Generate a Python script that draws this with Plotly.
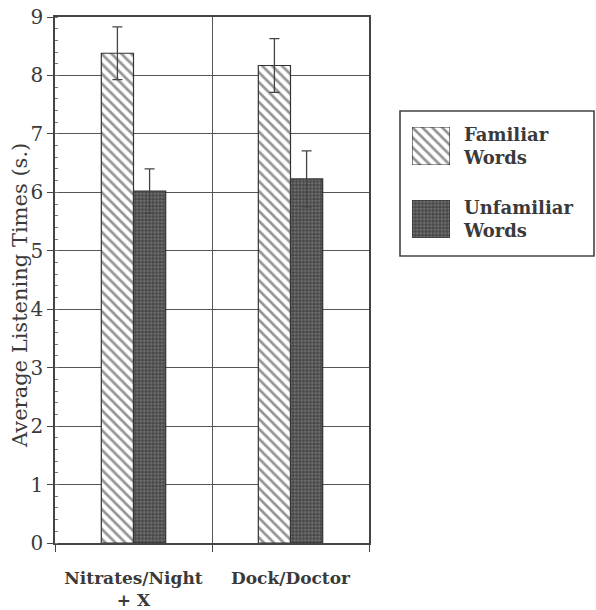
import plotly.graph_objects as go

# Mean listening times per condition, with error-bar half widths
conditions = ["Nitrates/Night<br>+ X", "Dock/Doctor"]
familiar = [8.38, 8.17]
familiar_err = [0.45, 0.46]
unfamiliar = [6.02, 6.23]
unfamiliar_err = [0.38, 0.48]

series_names = ["Familiar<br>Words", "Unfamiliar<br>Words"]
y_ticks = [0, 1, 2, 3, 4, 5, 6, 7, 8, 9]
y_title = "Average Listening Times (s.)"

INK = "#3a3a3a"
FONT = "DejaVu Serif"

W, H = 596, 610
ML, MR, MT, MB = 55, 1, 17, 67
PW = W - ML - MR
PH = H - MT - MB


def px_x(px):
    return (px - ML) / PW


def px_y(py):
    return (H - MB - py) / PH


hatch = dict(shape="\\", size=7, solidity=0.38, fgcolor="#2a2a2a", bgcolor="white")
dots = dict(shape=".", size=3.5, solidity=0.45, fgcolor="#9a9a9a", bgcolor="#474747")
outline = dict(color="#333", width=1.2)
err_style = dict(type="data", thickness=1.3, width=5, color="#444")

fig = go.Figure()
fig.add_trace(go.Bar(
    x=conditions, y=familiar, name="Familiar Words",
    marker=dict(color="white", pattern=hatch, line=outline),
    error_y=dict(array=familiar_err, **err_style),
    showlegend=False,
))
fig.add_trace(go.Bar(
    x=conditions, y=unfamiliar, name="Unfamiliar Words",
    marker=dict(color="#474747", pattern=dots, line=outline),
    error_y=dict(array=unfamiliar_err, **err_style),
    showlegend=False,
))

# Legend swatches drawn as single bars in small hidden subplots
swatch_x = [px_x(412), px_x(450)]
swatch_rows = [(px_y(165), px_y(127)), (px_y(238), px_y(200))]
swatch_patterns = [("white", hatch), ("#474747", dots)]
for i, ((y0, y1), (col, pat)) in enumerate(zip(swatch_rows, swatch_patterns)):
    n = i + 2
    fig.add_trace(go.Bar(
        x=[0], y=[1], width=[1], xaxis=f"x{n}", yaxis=f"y{n}",
        marker=dict(color=col, pattern=pat, line=outline),
        showlegend=False, hoverinfo="skip",
    ))
    fig.update_layout(**{
        f"xaxis{n}": dict(domain=swatch_x, range=[-0.5, 0.5], visible=False,
                          anchor=f"y{n}", fixedrange=True),
        f"yaxis{n}": dict(domain=[y0, y1], range=[0, 1], visible=False,
                          anchor=f"x{n}", fixedrange=True),
    })

for name, (y0, y1) in zip(series_names, swatch_rows):
    fig.add_annotation(
        x=px_x(461), y=(y0 + y1) / 2, xref="paper", yref="paper",
        text=name, showarrow=False, xanchor="left", yanchor="middle", align="left",
        font=dict(family=FONT, size=18, color=INK, weight="bold"),
    )

# Legend frame
fig.add_shape(
    type="rect", xref="paper", yref="paper",
    x0=px_x(400), x1=px_x(594), y0=px_y(256), y1=px_y(111),
    line=dict(color="#444", width=1.6), fillcolor="rgba(0,0,0,0)",
)

# Y-axis title, set a little below the plot's vertical centre
fig.add_annotation(
    x=px_x(20), y=px_y(296), xref="paper", yref="paper",
    text=y_title, textangle=-90, showarrow=False,
    xanchor="center", yanchor="middle",
    font=dict(family=FONT, size=21, color=INK),
)

fig.update_layout(
    width=W, height=H,
    margin=dict(l=ML, r=MR, t=MT, b=MB),
    paper_bgcolor="white", plot_bgcolor="white",
    barmode="group", bargap=0.59, bargroupgap=0,
    font=dict(family=FONT, color=INK),
    xaxis=dict(
        domain=[0, px_x(369)],
        type="category", range=[-0.5, 1.5],
        tickson="boundaries", ticks="outside", ticklen=7, tickcolor="#444",
        showgrid=True, gridcolor="#555", gridwidth=1,
        showline=True, linecolor="#444", linewidth=1.5, mirror=True,
        tickfont=dict(family=FONT, size=17, color=INK, weight="bold"),
        ticklabelstandoff=19,
        fixedrange=True,
    ),
    yaxis=dict(
        range=[0, 9], tickvals=y_ticks,
        ticks="outside", ticklen=6, tickcolor="#444",
        minor=dict(dtick=0.2, ticks="inside", ticklen=3, tickcolor="#777", showgrid=False),
        showgrid=True, gridcolor="#555", gridwidth=1,
        showline=True, linecolor="#444", linewidth=1.5, mirror=True,
        zeroline=False,
        tickfont=dict(family=FONT, size=20, color=INK),
        fixedrange=True,
    ),
)

fig.write_html("out.html")
